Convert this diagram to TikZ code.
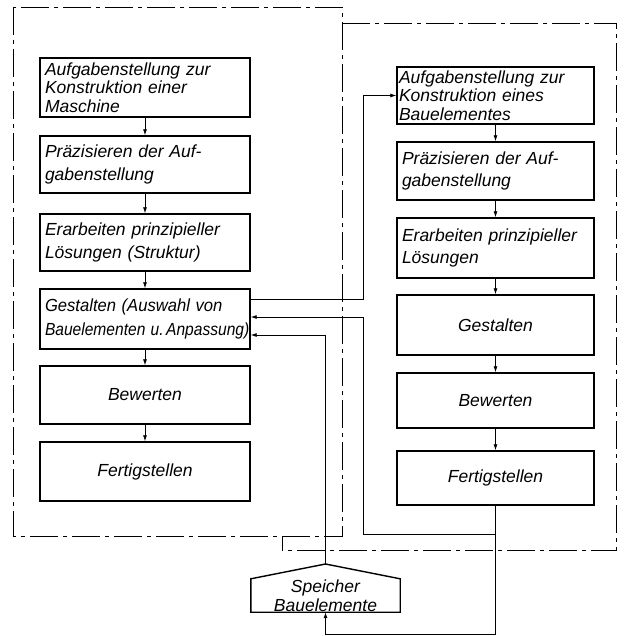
\documentclass[tikz,border=0pt]{standalone}
\usepackage{fontspec}
\setmainfont{Liberation Sans}
\usetikzlibrary{arrows.meta}
\begin{document}
\begin{tikzpicture}[x=1pt,y=-1pt,
  txt/.style={font=\itshape\fontsize{17.5}{18.5}\selectfont},
  box/.style={txt,draw,line width=1.4pt,inner xsep=5pt,inner ysep=0pt,align=left},
  lbox/.style={box,text width=200pt,minimum height=#1},
  rbox/.style={box,text width=187pt,minimum height=#1},
  conn/.style={line width=0.8pt},
  arr/.style={conn,-{Latex[length=6pt,width=4pt]}},
  frame/.style={line width=0.9pt,dash pattern=on 28pt off 5pt on 4pt off 5pt}]
\useasboundingbox (0,0) rectangle (625,636);

% frames
\coordinate (f1) at (13,7);
\coordinate (f2) at (342,536);
\coordinate (g1) at (342,23);
\coordinate (g2) at (616,23);
\coordinate (g3) at (616,550);
\coordinate (g4) at (282,550);
\coordinate (g5) at (282,536);
\draw[frame] (f1) rectangle (f2);
\draw[frame] (g1) -- (g2) -- (g3) -- (g4) -- (g5);

% left column
\node[lbox=59pt] (L1) at (145,87.5) {Aufgabenstellung zur\\Konstruktion einer\\Maschine};
\node[lbox=57pt] (L2) at (145,164.5) {Präzisieren der Auf-\\[4pt]gabenstellung};
\node[lbox=57pt] (L3) at (145,242.5) {Erarbeiten prinzipieller\\[4pt]Lösungen (Struktur)};
\node[lbox=60pt] (L4) at (145,319) {\scalebox{0.95}[1]{Gestalten (Auswahl von}\\[5pt]\scalebox{0.89}[1]{Bauelementen u.\,Anpassung)}};
\node[lbox=58pt,align=center] (L5) at (145,395) {Bewerten};
\node[lbox=59pt,align=center] (L6) at (145,471.5) {Fertigstellen};

% right column
\node[rbox=57pt,inner xsep=2pt,text width=193pt] (R1) at (495.5,95.5) {Aufgabenstellung zur\\Konstruktion eines\\Bauelementes};
\node[rbox=58pt] (R2) at (495.5,171) {Präzisieren der Auf-\\[4pt]gabenstellung};
\node[rbox=60pt] (R3) at (495.5,248) {Erarbeiten prinzipieller\\[4pt]Lösungen};
\node[rbox=60pt,align=center] (R4) at (495.5,325) {Gestalten};
\node[rbox=55pt,align=center] (R5) at (495.5,400.5) {Bewerten};
\node[rbox=54pt,align=center] (R6) at (495.5,478) {Fertigstellen};

% store
\node[txt,align=center,minimum width=149pt,minimum height=33pt,inner sep=0pt] (sp) at (325.5,595.5) {Speicher\\Bauelemente};
\coordinate (apex) at (325.5,564);
\draw[line width=1.4pt,line join=miter] (sp.south west) -- (sp.north west) -- (apex) -- (sp.north east) -- (sp.south east) -- cycle;

% vertical flows
\foreach \a/\b in {L1/L2,L2/L3,L3/L4,L4/L5,L5/L6,R1/R2,R2/R3,R3/R4,R4/R5,R5/R6}
  \draw[arr] (\a) -- (\b);

% cross connections
\draw[arr] ([yshift=20pt]L4.east) -- ++(113,0) |- (R1.west);
\coordinate (j1) at (R6.south |- 0,534);
\coordinate (k1) at (363,534);
\draw[arr] (R6.south) -- ++(0,129) -| (sp.south);
\draw[arr] (j1) -- (k1) |- ([yshift=2pt]L4.east);
\draw[arr] (apex) |- ([yshift=-16pt]L4.east);
\end{tikzpicture}
\end{document}
